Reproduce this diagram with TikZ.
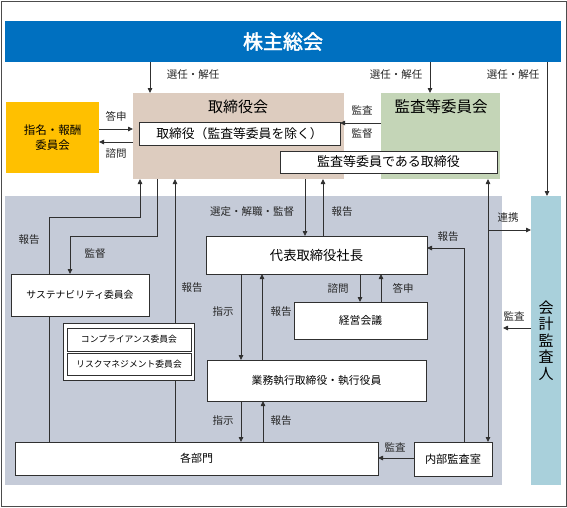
\documentclass[tikz,border=0pt]{standalone}
\usepackage{fontspec}
\newfontfamily\jp{Noto Sans CJK JP}
\newfontfamily\jpb{Noto Sans CJK JP}[FakeBold=2]
\usetikzlibrary{arrows.meta}
\definecolor{kblue}{HTML}{0070C0}
\definecolor{kbeige}{HTML}{DDCCBF}
\definecolor{kgreen}{HTML}{C4D5B7}
\definecolor{korange}{HTML}{FFC000}
\definecolor{kgray}{HTML}{C5CBD8}
\definecolor{kcyan}{HTML}{A9D0DB}
\definecolor{kline}{HTML}{303030}
\tikzset{
  fs/.code={\pgfmathsetmacro\myth{0.76*#1}%
    \edef\mytmp{\noexpand\pgfkeysalso{text height=\myth pt}}\mytmp
    \pgfkeysalso{font=\jp\fontsize{#1}{#1}\selectfont, text depth=0pt}},
  sz/.style 2 args={minimum width=#1pt, minimum height=#2pt},
  area/.style={inner sep=0pt, outer sep=0pt},
  wbox/.style={draw=kline, line width=0.8pt, fill=white, inner sep=0pt, outer sep=0pt},
  arr/.style={draw=kline, line width=0.8pt, -{Triangle[length=5pt,width=4.5pt]}},
  darr/.style={draw=kline, line width=0.8pt, {Triangle[length=5pt,width=4.5pt]}-{Triangle[length=5pt,width=4.5pt]}},
  ln/.style={draw=kline, line width=0.8pt},
  lbl/.style={fs=10.5, text=black!85, inner sep=0pt}
}
\begin{document}
\begin{tikzpicture}[x=1pt,y=-1pt]
\useasboundingbox (0,0) rectangle (567,507);
\draw[draw=black!70, line width=1pt] (1,1) rectangle (566,506);
% areas
\node[area, fill=kgray, sz={497}{289}] (garea) at (253.5,340.5) {};
\node[area, fill=kcyan, sz={30}{289}, font=\jp\fontsize{15}{16.5}\selectfont, align=center] (kaikei) at (546,340.5) {会\\計\\監\\査\\人};
\node[area, fill=kblue, sz={556}{41}, text height=15.2pt, text depth=0pt, font=\jpb\fontsize{20}{20}\selectfont, text=white] (kabu) at (283,41.5) {株主総会};
\node[area, fill=kbeige, sz={211}{86}] (tb) at (238.5,136) {};
\node[fs=15, inner sep=0pt] (tbtitle) at (238,107) {取締役会};
\node[area, fill=kgreen, sz={119}{86}] (kansa) at (440.5,136) {};
\node[fs=15.5, inner sep=0pt] (kstitle) at (441,107) {監査等委員会};
\node[wbox, sz={201}{23}, fs=12.8] (inner1) at (239.5,133.5) {取締役（監査等委員を除く）};
\node[wbox, sz={217}{22}, fs=13] (inner2) at (388.5,162) {監査等委員である取締役};
\node[area, fill=korange, sz={93}{71}, font=\jp\fontsize{11.5}{15}\selectfont, align=center] (nom) at (52.5,137.5) {指名・報酬\\委員会};
% boxes in the executive area
\node[wbox, sz={138}{42}, fs=9.8] (sust) at (80,295) {サステナビリティ委員会};
\node[wbox, sz={221}{38}, fs=13.3] (daihyo) at (316.5,255) {代表取締役社長};
\node[wbox, sz={133}{37}, fs=10.8] (keiei) at (360.5,320.5) {経営会議};
\node[wbox, sz={219}{41}, fs=10.8] (gyomu) at (316.5,380.5) {業務執行取締役・執行役員};
\node[wbox, sz={363}{33}, fs=11] (kakubu) at (196.5,458.5) {各部門};
\node[wbox, sz={78}{34}, fs=11.2] (naibu) at (453,459) {内部監査室};
% report line passing behind the committee group
\draw[arr] (175,0 |- kakubu.north) -- (175,0 |- tb.south);
\node[lbl] (l10) at (192,288) {報告};
\node[wbox, sz={131}{57}] (grp) at (128.5,351.5) {};
\node[wbox, sz={124}{23}, fs=8.8] (comp) at (129,339.5) {コンプライアンス委員会};
\node[wbox, sz={124}{22}, fs=8.8] (risk) at (129,364) {リスクマネジメント委員会};
% shareholders
\draw[arr] (150,0 |- kabu.south) -- (150,0 |- tb.north);
\node[lbl] (l1) at (193,75) {選任・解任};
\draw[arr] (430,0 |- kabu.south) -- (430,0 |- kansa.north);
\node[lbl] (l2) at (396,75) {選任・解任};
\draw[arr] (547,0 |- kabu.south) -- (547,0 |- kaikei.north);
\node[lbl] (l3) at (513,75) {選任・解任};
% nomination committee
\draw[arr] (nom.east |- 0,129) -- (tb.west |- 0,129);
\node[lbl] (l4) at (116,117) {答申};
\draw[arr] (tb.west |- 0,142) -- (nom.east |- 0,142);
\node[lbl] (l5) at (116,154) {諮問};
% audit committee
\draw[arr] (kansa.west |- 0,123) -- (inner1.east |- 0,123);
\node[lbl] (l6) at (362,111) {監査};
\node[lbl] (l7) at (362,134) {監督};
% sustainability
\draw[arr] (49,0 |- sust.north) -- (49,217) -- (140,217) -- (140,0 |- tb.south);
\node[lbl] (l8) at (29,240) {報告};
\draw[arr] (157,0 |- tb.south) -- (157,236) -- (70,236) -- (70,0 |- sust.north);
\node[lbl] (l9) at (95,254) {監督};
\draw[ln] (49,0 |- sust.south) -- (49,0 |- kakubu.north);
% president
\draw[arr] (305,0 |- tb.south) -- (305,0 |- daihyo.north);
\node[lbl] (l11) at (252,212) {選定・解職・監督};
\draw[arr] (323,0 |- daihyo.north) -- (323,0 |- tb.south);
\node[lbl] (l12) at (342,212) {報告};
\draw[arr] (360,0 |- daihyo.south) -- (360,0 |- keiei.north);
\node[lbl] (l13) at (338,289) {諮問};
\draw[arr] (381,0 |- keiei.north) -- (381,0 |- daihyo.south);
\node[lbl] (l14) at (403,289) {答申};
\draw[arr] (241,0 |- daihyo.south) -- (241,0 |- gyomu.north);
\node[lbl] (l15) at (223,312) {指示};
\draw[arr] (262,0 |- gyomu.north) -- (262,0 |- daihyo.south);
\node[lbl] (l16) at (281,312) {報告};
\draw[arr] (241,0 |- gyomu.south) -- (241,0 |- kakubu.north);
\node[lbl] (l17) at (223,420) {指示};
\draw[arr] (263,0 |- kakubu.north) -- (263,0 |- gyomu.south);
\node[lbl] (l18) at (281,420) {報告};
% internal audit
\draw[arr] (naibu.west |- 0,458) -- (kakubu.east |- 0,458);
\node[lbl] (l19) at (395,447) {監査};
\draw[arr] (464,0 |- naibu.north) -- (464,248) -- (daihyo.east |- 0,248);
\node[lbl] (l20) at (448,237) {報告};
\draw[darr] (488,0 |- kansa.south) -- (488,0 |- naibu.north);
% accounting auditor
\coordinate (renkei) at (488,230);
\draw[arr] (renkei) -- (kaikei.west |- renkei);
\node[lbl] (l21) at (508,218) {連携};
\coordinate (kaend) at (503,328);
\draw[arr] (kaikei.west |- kaend) -- (kaend);
\node[lbl] (l22) at (514,317) {監査};
\end{tikzpicture}
\end{document}
